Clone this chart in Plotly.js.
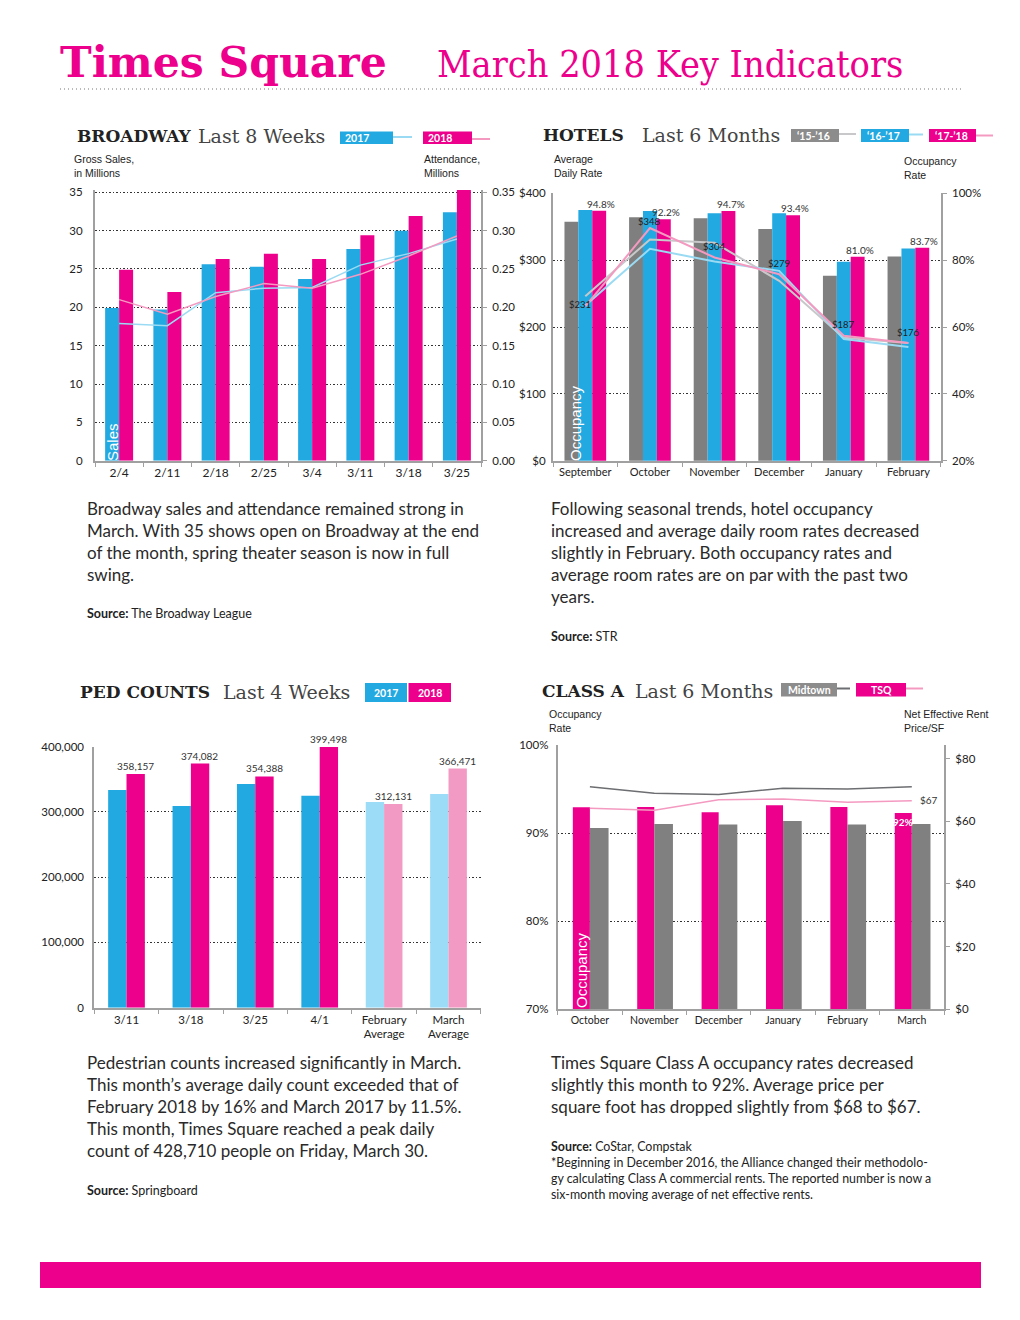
<!DOCTYPE html>
<html>
<head>
<meta charset="utf-8">
<script src="https://cdn.plot.ly/plotly-3.0.1.min.js"></script>
<style>
  html, body { margin: 0; padding: 0; background: #ffffff; }
  #chart { width: 1020px; height: 1320px; }
</style>
</head>
<body>
<div id="chart"></div>
<script>
// ---------- DATA ----------
// Broadway (last 8 weeks)
const weeks = ['2/4', '2/11', '2/18', '2/25', '3/4', '3/11', '3/18', '3/25'];
const sales2017 = [19.9, 19.7, 25.6, 25.3, 23.7, 27.6, 30.0, 32.4];
const sales2018 = [24.9, 22.0, 26.3, 27.0, 26.3, 29.4, 31.9, 35.3];
const attend2017 = [0.179, 0.176, 0.219, 0.225, 0.226, 0.255, 0.270, 0.289];
const attend2018 = [0.210, 0.191, 0.214, 0.231, 0.225, 0.243, 0.267, 0.293];

// Hotels (last 6 months)
const hotelMonths = ['September', 'October', 'November', 'December', 'January', 'February'];
const occ1516 = [91.5, 92.8, 92.5, 89.3, 75.3, 81.1];
const occ1617 = [95.0, 94.7, 94.0, 94.0, 79.5, 83.5];
const occ1718 = [94.8, 92.2, 94.7, 93.4, 81.0, 83.7];
const adr1516 = [246, 331, 326, 269, 184, 176];
const adr1617 = [232, 317, 298, 284, 182, 170];
const adr1718 = [231, 348, 304, 279, 187, 176];

// Ped counts (last 4 weeks + averages)
const pedWeeks = ['3/11', '3/18', '3/25', '4/1', 'February<br>Average', 'March<br>Average'];
const ped2017 = [333600, 309100, 342800, 324900, 315200, 327500];
const ped2018 = [358157, 374082, 354388, 399498, 312131, 366471];

// Class A (last 6 months)
const classMonths = ['October', 'November', 'December', 'January', 'February', 'March'];
const tsqOcc = [92.95, 93.0, 92.4, 93.2, 93.0, 92.3];
const midOcc = [90.6, 91.05, 91.0, 91.4, 91.0, 91.05];
const tsqRent = [64.1, 63.5, 66.8, 67.1, 66.0, 66.5];
const midRent = [71.0, 68.9, 68.5, 70.5, 70.3, 71.0];

// Tick values
const bwSalesTicks = [0, 5, 10, 15, 20, 25, 30, 35];
const bwAttTicks = [0, 0.05, 0.1, 0.15, 0.2, 0.25, 0.3, 0.35];
const hotelOccTicks = [20, 40, 60, 80, 100];
const hotelAdrTicks = [0, 100, 200, 300, 400];
const pedTicks = [0, 100000, 200000, 300000, 400000];
const classOccTicks = [70, 80, 90, 100];
const classRentTicks = [0, 20, 40, 60, 80];

// ---------- STYLE ----------
const PINK = '#EC008C', BLUE = '#23A9E1', GRAY = '#808080';
const LBLUE = '#9ADBF3', LPINK = '#F49AC1', LGRAY = '#C8C8CA', DGRAY = '#6D6E71';
const PALE_BLUE = '#9CDCF6', PALE_PINK = '#F29AC3';
const AXC = '#A0A0A0';
const TXT = '#333333';
const TICKF = 'Lato, "Open Sans", sans-serif';
const BODYF = 'Lato, "Open Sans", sans-serif';
const SLAB = '"DejaVu Serif", serif';
const SLABC = '"DejaVu Serif Condensed", "DejaVu Serif", serif';
const GRIDDASH = '1.5px,2px';

const W = 1020, H = 1320;
const PX = p => p / W;
const PY = p => 1 - p / H;

function catAxis(domain, anchor, fontSize) {
  return {
    domain: domain, anchor: anchor, type: 'category', fixedrange: true,
    showline: true, linecolor: AXC, linewidth: 2,
    ticks: 'outside', tickson: 'boundaries', ticklen: 4, tickcolor: AXC, tickwidth: 1,
    tickfont: {family: TICKF, size: fontSize, color: '#222'},
    showgrid: false, zeroline: false
  };
}
function valAxis(extra) {
  return Object.assign({
    fixedrange: true, zeroline: false,
    showline: true, linecolor: AXC, linewidth: 2,
    tickfont: {family: TICKF, size: 11.5, color: '#222'},
    showgrid: true, gridcolor: '#333', griddash: GRIDDASH, gridwidth: 1,
    ticks: '', ticklabelstandoff: 6, tickmode: 'array'
  }, extra);
}

const traces = [];

// ---- Broadway ----
traces.push({type: 'bar', x: weeks, y: sales2017, xaxis: 'x', yaxis: 'y',
  width: 0.29, offset: -0.29, marker: {color: BLUE}, hoverinfo: 'skip'});
traces.push({type: 'bar', x: weeks, y: sales2018, xaxis: 'x', yaxis: 'y',
  width: 0.29, offset: 0, marker: {color: PINK}, hoverinfo: 'skip'});
traces.push({type: 'scatter', mode: 'lines', x: weeks, y: attend2017, xaxis: 'x', yaxis: 'y2',
  line: {color: LBLUE, width: 1.5}, hoverinfo: 'skip'});
traces.push({type: 'scatter', mode: 'lines', x: weeks, y: attend2018, xaxis: 'x', yaxis: 'y2',
  line: {color: LPINK, width: 1.5}, hoverinfo: 'skip'});

// ---- Hotels ---- (bars: occupancy on y3 right; lines: ADR on y4 left overlay)
const hw = 0.215;
traces.push({type: 'bar', x: hotelMonths, y: occ1516, xaxis: 'x2', yaxis: 'y3',
  width: hw, offset: -1.5 * hw, marker: {color: '#7F7F7F'}, hoverinfo: 'skip'});
traces.push({type: 'bar', x: hotelMonths, y: occ1617, xaxis: 'x2', yaxis: 'y3',
  width: hw, offset: -0.5 * hw, marker: {color: BLUE}, hoverinfo: 'skip'});
traces.push({type: 'bar', x: hotelMonths, y: occ1718, xaxis: 'x2', yaxis: 'y3',
  width: hw, offset: 0.5 * hw, marker: {color: PINK}, hoverinfo: 'skip'});
traces.push({type: 'scatter', mode: 'lines', x: hotelMonths, y: adr1516, xaxis: 'x2', yaxis: 'y4',
  line: {color: LGRAY, width: 2}, hoverinfo: 'skip'});
traces.push({type: 'scatter', mode: 'lines', x: hotelMonths, y: adr1617, xaxis: 'x2', yaxis: 'y4',
  line: {color: LBLUE, width: 2}, hoverinfo: 'skip'});
traces.push({type: 'scatter', mode: 'lines', x: hotelMonths, y: adr1718, xaxis: 'x2', yaxis: 'y4',
  line: {color: LPINK, width: 2}, hoverinfo: 'skip'});

// ---- Ped counts ----
const nWeeks = 4;
traces.push({type: 'bar', x: pedWeeks, y: ped2017, xaxis: 'x3', yaxis: 'y5',
  width: 0.285, offset: -0.285, hoverinfo: 'skip',
  marker: {color: pedWeeks.map((_, i) => i < nWeeks ? BLUE : PALE_BLUE)}});
traces.push({type: 'bar', x: pedWeeks, y: ped2018, xaxis: 'x3', yaxis: 'y5',
  width: 0.285, offset: 0, hoverinfo: 'skip',
  marker: {color: pedWeeks.map((_, i) => i < nWeeks ? PINK : PALE_PINK)}});

// ---- Class A ----
traces.push({type: 'bar', x: classMonths, y: tsqOcc, xaxis: 'x4', yaxis: 'y6',
  width: 0.265, offset: -0.265, marker: {color: PINK}, hoverinfo: 'skip'});
traces.push({type: 'bar', x: classMonths, y: midOcc, xaxis: 'x4', yaxis: 'y6',
  width: 0.29, offset: 0, marker: {color: GRAY}, hoverinfo: 'skip'});
traces.push({type: 'scatter', mode: 'lines', x: classMonths, y: midRent, xaxis: 'x4', yaxis: 'y7',
  line: {color: DGRAY, width: 1.5}, hoverinfo: 'skip'});
traces.push({type: 'scatter', mode: 'lines', x: classMonths, y: tsqRent, xaxis: 'x4', yaxis: 'y7',
  line: {color: LPINK, width: 1.5}, hoverinfo: 'skip'});

// ---------- ANNOTATIONS ----------
const ann = [];
function txt(x, y, text, o) {
  ann.push(Object.assign({xref: 'paper', yref: 'paper', x: PX(x), y: PY(y), text: text,
    showarrow: false, xanchor: 'left', yanchor: 'middle', align: 'left',
    font: {family: BODYF, size: 11, color: TXT}}, o || {}));
}

// Header
txt(58, 62, '<b>Times Square</b>', {font: {family: SLAB, size: 42.5, color: PINK}});
txt(435, 64, 'March 2018 Key Indicators', {font: {family: SLABC, size: 37.5, color: PINK}});

// Section titles
function sectionTitle(xb, xl, y, bold, light) {
  txt(xb, y, '<b>' + bold + '</b>', {font: {family: SLAB, size: 17, color: '#222'}});
  txt(xl, y, light, {font: {family: SLAB, size: 19, color: '#444'}});
}
sectionTitle(75, 196, 136, 'BROADWAY', 'Last 8 Weeks');
sectionTitle(541, 640, 135, 'HOTELS', 'Last 6 Months');
sectionTitle(78, 221, 692, 'PED COUNTS', 'Last 4 Weeks');
sectionTitle(540, 633, 691, 'CLASS A', 'Last 6 Months');

// Legend boxes
const shapes = [];
function box(x0, x1, y0, y1, color) {
  shapes.push({type: 'rect', xref: 'paper', yref: 'paper', x0: PX(x0), x1: PX(x1), y0: PY(y1), y1: PY(y0),
    fillcolor: color, line: {width: 0}, layer: 'above'});
}
function hline(x0, x1, y, color, w, dash) {
  shapes.push({type: 'line', xref: 'paper', yref: 'paper', x0: PX(x0), x1: PX(x1), y0: PY(y), y1: PY(y),
    line: {color: color, width: w || 1.5, dash: dash || 'solid'}, layer: 'above'});
}
function legTxt(x, y, t, anchor) {
  txt(x, y, '<b>' + t + '</b>', {xanchor: anchor || 'left', font: {family: BODYF, size: 10.5, color: '#fff'}});
}
// Broadway legend
box(340, 393, 131.5, 144, BLUE); hline(393, 412, 137, LBLUE, 2); legTxt(343, 138, '2017');
box(423, 472, 131.5, 144, PINK); hline(472, 490, 139, LPINK, 2); legTxt(426, 138, '2018');
// Hotels legend
box(791, 839, 129, 142, '#8C8C8C'); hline(839, 856, 134, LGRAY, 2); legTxt(795, 135.5, '\u201815-\u201916');
box(861, 909, 129, 142, BLUE); hline(909, 923, 134.5, LBLUE, 2); legTxt(865, 135.5, '\u201816-\u201917');
box(929, 976, 129, 142, PINK); hline(976, 993, 135.5, LPINK, 2); legTxt(933, 135.5, '\u201817-\u201918');
// Ped legend
box(365, 407, 683, 702, BLUE); legTxt(386, 692.5, '2017', 'center');
box(408.5, 451, 683, 702, PINK); legTxt(430, 692.5, '2018', 'center');
// Class A legend
box(781, 837, 683, 696.5, '#8C8C8C'); hline(837, 850, 688.5, DGRAY, 2); legTxt(809, 690, 'Midtown', 'center');
box(856, 906, 683, 696.5, PINK); hline(906, 923, 688.5, LPINK, 2); legTxt(881, 690, 'TSQ', 'center');

// Header dotted rule & bottom bar
hline(60, 962, 89, '#777', 1.2, '1px,3px');
shapes.push({type: 'rect', xref: 'paper', yref: 'paper', x0: PX(40), x1: PX(981), y0: PY(1288), y1: PY(1262),
  fillcolor: PINK, line: {width: 0}});

// Axis captions
const capF = {family: '"Liberation Sans", Arial, sans-serif', size: 10.5, color: '#222'};
txt(72, 166, 'Gross Sales,<br>in Millions', {font: capF});
txt(422, 166, 'Attendance,<br>Millions', {font: capF});
txt(552, 166, 'Average<br>Daily Rate', {font: capF});
txt(902, 168, 'Occupancy<br>Rate', {font: capF});
txt(547, 721, 'Occupancy<br>Rate', {font: capF});
txt(902, 721, 'Net Effective Rent<br>Price/SF', {font: capF});

// Rotated in-bar labels
const rotF = {family: '"Liberation Sans", Arial, sans-serif', size: 15, color: '#fff'};
txt(112, 442, 'Sales', {xanchor: 'center', textangle: -90, font: rotF});
txt(575, 423, 'Occupancy', {xanchor: 'center', textangle: -90, font: rotF});
txt(581, 970, 'Occupancy', {xanchor: 'center', textangle: -90, font: rotF});

// Hotels labels
occ1718.forEach((v, i) => {
  ann.push({xref: 'x2', yref: 'y3', x: hotelMonths[i], y: v, text: v.toFixed(1) + '%',
    showarrow: false, yanchor: 'bottom', xanchor: 'center', xshift: 16, yshift: -1,
    font: {family: TICKF, size: 10, color: '#333'}});
});
adr1718.forEach((v, i) => {
  ann.push({xref: 'x2', yref: 'y4', x: hotelMonths[i], y: v, text: '$' + v,
    showarrow: false, yanchor: 'middle', xanchor: 'center',
    xshift: i === 0 ? -5 : 0, yshift: i === 0 ? 2 : (i === 1 ? 7 : 11),
    font: {family: TICKF, size: 9.5, color: '#222'}});
});

// Ped labels
ped2018.forEach((v, i) => {
  ann.push({xref: 'x3', yref: 'y5', x: pedWeeks[i], y: v, text: v.toLocaleString('en-US'),
    showarrow: false, yanchor: 'bottom', xanchor: 'center', xshift: 9, yshift: 0,
    font: {family: TICKF, size: 10, color: '#333'}});
});

// Class A labels
const last = classMonths.length - 1;
ann.push({xref: 'x4', yref: 'y7', x: classMonths[last], y: tsqRent[last], text: '$' + Math.round(tsqRent[last]),
  showarrow: false, xanchor: 'left', yanchor: 'middle', xshift: 6, yshift: 1,
  font: {family: TICKF, size: 10, color: '#333'}});
ann.push({xref: 'x4', yref: 'y6', x: classMonths[last], y: tsqOcc[last], text: '<b>' + Math.round(tsqOcc[last]) + '%</b>',
  showarrow: false, xanchor: 'center', yanchor: 'top', xshift: -8.5, yshift: -1,
  font: {family: TICKF, size: 10, color: '#fff'}});

// Body text
const bodyF = {family: BODYF, size: 17, color: '#2a2a2a'};
const srcF = {family: BODYF, size: 12.5, color: '#222'};
txt(85, 496, 'Broadway sales and attendance remained strong in<br>March. With 35 shows open on Broadway at the end<br>of the month, spring theater season is now in full<br>swing.', {yanchor: 'top', font: bodyF});
txt(85, 614, '<b>Source:</b> The Broadway League', {font: srcF});

txt(549, 496, 'Following seasonal trends, hotel occupancy<br>increased and average daily room rates decreased<br>slightly in February. Both occupancy rates and<br>average room rates are on par with the past two<br>years.', {yanchor: 'top', font: bodyF});
txt(549, 636, '<b>Source:</b> STR', {font: srcF});

txt(85, 1050, 'Pedestrian counts increased significantly in March.<br>This month\u2019s average daily count exceeded that of<br>February 2018 by 16% and March 2017 by 11.5%.<br>This month, Times Square reached a peak daily<br>count of 428,710 people on Friday, March 30.', {yanchor: 'top', font: bodyF});
txt(85, 1190, '<b>Source:</b> Springboard', {font: srcF});

txt(549, 1050, 'Times Square Class A occupancy rates decreased<br>slightly this month to 92%. Average price per<br>square foot has dropped slightly from $68 to $67.', {yanchor: 'top', font: bodyF});
txt(549, 1137, '<b>Source:</b> CoStar, Compstak<br>*Beginning in December 2016, the Alliance changed their methodolo-<br>gy calculating Class A commercial rents. The reported number is now a<br>six-month moving average of net effective rents.', {yanchor: 'top', font: {family: BODYF, size: 12.4, color: '#222'}});

// ---------- LAYOUT ----------
const layout = {
  width: W, height: H,
  margin: {l: 0, r: 0, t: 0, b: 0},
  paper_bgcolor: '#fff', plot_bgcolor: 'rgba(0,0,0,0)',
  showlegend: false, barmode: 'overlay',
  font: {family: TICKF},

  // Broadway
  xaxis: catAxis([PX(95), PX(481)], 'y', 12),
  yaxis: valAxis({domain: [PY(460.7), PY(189.6)], anchor: 'x', range: [0, 35.35],
    tickvals: bwSalesTicks, ticktext: bwSalesTicks.map(String), ticklabelstandoff: 8}),
  yaxis2: valAxis({overlaying: 'y', side: 'right', anchor: 'x', range: [0, 0.3535],
    tickvals: bwAttTicks, ticktext: bwAttTicks.map(v => v.toFixed(2)),
    showgrid: false, ticks: 'outside', ticklen: 4, tickcolor: AXC, ticklabelstandoff: 3}),

  // Hotels
  xaxis2: catAxis([PX(553), PX(940.7)], 'y3', 11),
  yaxis3: valAxis({domain: [PY(460.7), PY(193.3)], anchor: 'x2', side: 'right', range: [20, 100],
    tickvals: hotelOccTicks, ticktext: hotelOccTicks.map(v => v + '%'),
    ticks: 'outside', ticklen: 4, tickcolor: AXC, ticklabelstandoff: 3}),
  yaxis4: valAxis({overlaying: 'y3', side: 'left', anchor: 'x2', range: [0, 400],
    tickvals: hotelAdrTicks, ticktext: hotelAdrTicks.map(v => '$' + v), showgrid: false, ticklabelstandoff: 3}),

  // Ped counts
  xaxis3: catAxis([PX(94.3), PX(480.7)], 'y5', 11.5),
  yaxis5: valAxis({domain: [PY(1007.7), PY(746.7)], anchor: 'x3', range: [0, 400000],
    tickvals: pedTicks, ticktext: pedTicks.map(v => v.toLocaleString('en-US')), ticklabelstandoff: 6}),

  // Class A
  xaxis4: catAxis([PX(557.7), PX(944)], 'y6', 10.5),
  yaxis6: valAxis({domain: [PY(1009.3), PY(745.3)], anchor: 'x4', range: [70, 100],
    tickvals: classOccTicks, ticktext: classOccTicks.map(v => v + '%'), ticklabelstandoff: 5}),
  yaxis7: valAxis({overlaying: 'y6', side: 'right', anchor: 'x4', range: [0, 84.2],
    tickvals: classRentTicks, ticktext: classRentTicks.map(v => '$' + v), showgrid: false,
    ticks: 'outside', ticklen: 4, tickcolor: AXC, ticklabelstandoff: 3}),

  annotations: ann,
  shapes: shapes
};

Plotly.newPlot('chart', traces, layout, {staticPlot: true, displayModeBar: false});
</script>
</body>
</html>
